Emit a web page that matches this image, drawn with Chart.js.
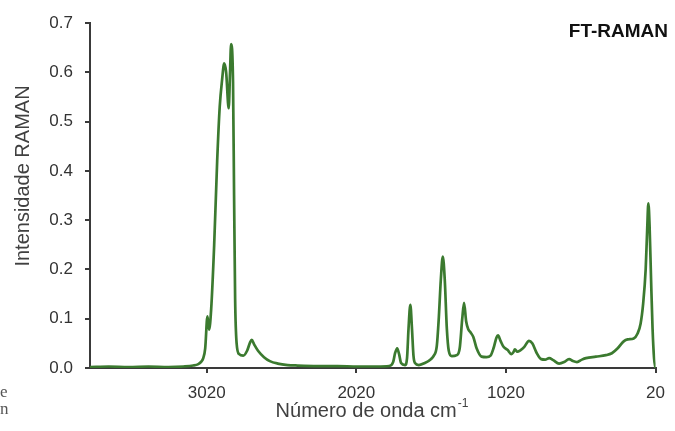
<!DOCTYPE html>
<html>
<head>
<meta charset="utf-8">
<script src="https://cdn.jsdelivr.net/npm/chart.js@4.4.1/dist/chart.umd.min.js"></script>
<style>
  html, body { margin: 0; padding: 0; background: #fff; }
  #wrap { position: relative; width: 675px; height: 431px; }
  .side { position: absolute; left: 0; font-family: "Liberation Serif", serif; font-size: 17px; color: #555; }
</style>
</head>
<body>
<div id="wrap">
  <canvas id="chart" width="675" height="431"></canvas>
  <div class="side" style="top:382px;">e</div>
  <div class="side" style="top:399px;">n</div>
</div>
<script>
// FT-Raman spectrum, values
const wavenumbers = [
  3800, 3675, 3542, 3409, 3276, 3176, 3110, 3076, 3056, 3043, 3030, 3015, 3004, 2990, 2970, 2950,
  2933, 2917, 2903, 2890, 2873, 2864, 2857, 2844, 2837, 2830, 2820, 2803, 2776, 2750, 2730, 2719,
  2703, 2677, 2637, 2598, 2545, 2479, 2412, 2279, 2146, 2014, 1881, 1801, 1774, 1761, 1747, 1734,
  1721, 1694, 1681, 1671, 1659, 1648, 1638, 1628, 1602, 1562, 1522, 1502, 1482, 1469, 1455, 1442,
  1429, 1415, 1402, 1382, 1349, 1329, 1312, 1300, 1286, 1271, 1256, 1238, 1216, 1183, 1150, 1123,
  1103, 1083, 1073, 1056, 1036, 1010, 983, 970, 960, 944, 924, 897, 866, 844, 817, 784,
  758, 731, 704, 665, 631, 598, 572, 545, 512, 485, 419, 352, 312, 273, 233, 206,
  166, 140, 120, 103, 86, 76, 68, 60, 50, 40, 30, 20
];
const intensities = [
  0.002, 0.003, 0.002, 0.003, 0.002, 0.003, 0.005, 0.008, 0.013, 0.02, 0.04, 0.105, 0.078, 0.12, 0.25, 0.42,
  0.53, 0.585, 0.618, 0.6, 0.527, 0.6, 0.657, 0.58, 0.35, 0.14, 0.05, 0.028, 0.025, 0.035, 0.052, 0.057,
  0.048, 0.035, 0.022, 0.014, 0.009, 0.006, 0.005, 0.004, 0.004, 0.003, 0.003, 0.004, 0.012, 0.03, 0.04, 0.028,
  0.01, 0.006, 0.02, 0.08, 0.128, 0.08, 0.025, 0.01, 0.006, 0.01, 0.018, 0.025, 0.045, 0.1, 0.18, 0.226,
  0.18, 0.08, 0.035, 0.024, 0.026, 0.04, 0.1, 0.132, 0.095, 0.078, 0.072, 0.063, 0.04, 0.023, 0.022, 0.025,
  0.04, 0.062, 0.066, 0.055, 0.043, 0.037, 0.028, 0.032, 0.038, 0.033, 0.036, 0.043, 0.055, 0.05, 0.032, 0.018,
  0.017, 0.02, 0.016, 0.009, 0.012, 0.018, 0.014, 0.012, 0.017, 0.02, 0.023, 0.026, 0.03, 0.04, 0.054, 0.058,
  0.06, 0.07, 0.09, 0.13, 0.2, 0.28, 0.334, 0.29, 0.18, 0.08, 0.02, 0.0
];
const xTicks = [3020, 2020, 1020, 20];
const chartTitle = 'FT-RAMAN';
const yTitle = 'Intensidade RAMAN';
const xTitle = 'Número de onda cm';
const xTitleSup = '-1';

const font = '"Liberation Sans", Arial, sans-serif';
const axisColor = '#3a3a3a';

const labelsPlugin = {
  id: 'labels',
  afterDraw(chart) {
    const ctx = chart.ctx;
    ctx.save();
    // title, top right
    ctx.fillStyle = '#111';
    ctx.font = 'bold 19px ' + font;
    ctx.textAlign = 'right';
    ctx.textBaseline = 'middle';
    ctx.fillText(chartTitle, 668, 32);

    // y title
    ctx.fillStyle = '#404040';
    ctx.font = '20px ' + font;
    ctx.save();
    ctx.translate(23, 176);
    ctx.rotate(-Math.PI / 2);
    ctx.textAlign = 'center';
    ctx.fillText(yTitle, 0, 0);
    ctx.restore();

    // x title with superscript
    ctx.textAlign = 'left';
    ctx.textBaseline = 'alphabetic';
    ctx.font = '20px ' + font;
    const w1 = ctx.measureText(xTitle).width;
    ctx.font = '12px ' + font;
    const w2 = ctx.measureText(xTitleSup).width;
    const x0 = 372 - (w1 + w2 + 1) / 2;
    ctx.font = '20px ' + font;
    ctx.fillText(xTitle, x0, 417);
    ctx.font = '12px ' + font;
    ctx.fillText(xTitleSup, x0 + w1 + 1, 407);
    ctx.restore();
  }
};

new Chart(document.getElementById('chart'), {
  type: 'line',
  data: {
    datasets: [{
      data: wavenumbers.map((w, i) => ({ x: w, y: intensities[i] })),
      borderColor: '#3b7a2f',
      borderWidth: 2.7,
      pointRadius: 0,
      fill: false,
      cubicInterpolationMode: 'monotone'
    }]
  },
  options: {
    responsive: false,
    animation: false,
    layout: { padding: { top: 23, right: 16, bottom: 0, left: 0 } },
    plugins: { legend: { display: false }, tooltip: { enabled: false } },
    scales: {
      x: {
        type: 'linear',
        reverse: true,
        min: 20,
        max: 3800,
        afterBuildTicks: s => { s.ticks = xTicks.map(v => ({ value: v })); },
        afterFit: s => { s.height = 63; },
        grid: { drawOnChartArea: false, drawTicks: true, tickLength: 5, color: axisColor, lineWidth: 2 },
        border: { display: true, color: axisColor, width: 2 },
        ticks: { color: '#333', padding: 10, maxRotation: 0, font: { family: font, size: 17 },
                 callback: v => String(v) }
      },
      y: {
        min: 0,
        max: 0.7,
        afterFit: s => { s.width = 90; },
        grid: { drawOnChartArea: false, drawTicks: true, tickLength: 5, color: axisColor, lineWidth: 2 },
        border: { display: true, color: axisColor, width: 2 },
        ticks: { stepSize: 0.1, color: '#333', padding: 12, font: { family: font, size: 17 },
                 callback: v => v.toFixed(1) }
      }
    }
  },
  plugins: [labelsPlugin]
});
</script>
</body>
</html>
